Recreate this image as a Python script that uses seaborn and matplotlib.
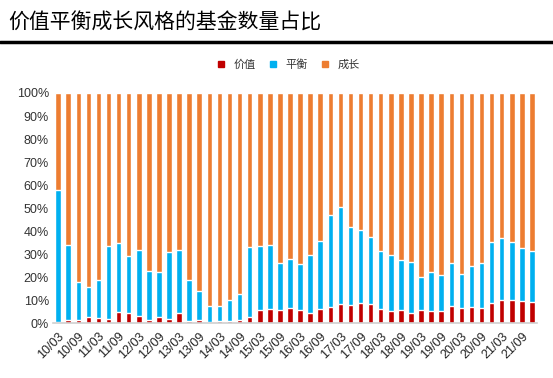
import pandas as pd
import matplotlib
matplotlib.use("Agg")
import matplotlib.pyplot as plt
import matplotlib.lines as mlines
import seaborn as sns

# Quarter labels 2010Q1 .. 2021Q4
quarters = [f"{y:02d}/{m:02d}" for y in range(10, 22) for m in (3, 6, 9, 12)]

# Share of funds by style (%)
value_share = [0.5, 1.6, 1.3, 2.9, 2.2, 1.7, 4.8, 4.4, 3.2, 1.3, 2.9, 1.7,
               4.4, 0.9, 1.6, 0.6, 0.9, 0.9, 1.3, 2.9, 5.7, 6.0, 5.7, 6.4,
               5.7, 4.5, 6.0, 7.0, 8.3, 7.8, 8.7, 8.3, 6.0, 5.1, 5.7, 4.4,
               5.7, 5.1, 5.1, 7.3, 6.8, 7.0, 6.4, 8.7, 9.9, 10.2, 9.6, 9.3]
balance_share = [57.3, 32.3, 16.7, 12.7, 16.4, 31.9, 29.9, 25.0, 28.5, 21.2, 19.2, 29.3,
                 27.3, 17.9, 12.4, 6.7, 6.7, 9.3, 11.5, 30.4, 27.9, 27.9, 20.3, 21.4,
                 20.0, 25.0, 29.5, 39.9, 42.0, 34.1, 31.7, 29.1, 25.2, 24.4, 21.8, 22.2,
                 14.4, 17.3, 15.7, 18.9, 14.4, 18.0, 19.8, 26.5, 26.9, 25.0, 23.1, 21.9]

series_names = ["价值", "平衡", "成长"]
colors = ["#C00000", "#00B0F0", "#ED7D31"]

df = pd.DataFrame({"quarter": quarters, "value": value_share, "balance": balance_share})
df["growth"] = 100 - df["value"] - df["balance"]
df["top_value"] = df["value"]
df["top_balance"] = df["value"] + df["balance"]
df["top_growth"] = df["top_balance"] + df["growth"]

sns.set_style("white")
plt.rcParams["font.family"] = ["Noto Sans CJK SC", "DejaVu Sans"]

fig = plt.figure(figsize=(5.53, 3.78), dpi=100)
ax = fig.add_axes([0.096, 0.145, 0.875, 0.609])

for col, c in zip(["top_growth", "top_balance", "top_value"], colors[::-1]):
    sns.barplot(data=df, x="quarter", y=col, color=c, width=0.55,
                saturation=1, ax=ax, errorbar=None)

ax.set_xlim(-0.5, len(quarters) - 0.5)
ax.set_ylim(0, 100)
ax.set_yticks(range(0, 101, 10))
ax.set_yticklabels([f"{v}%" for v in range(0, 101, 10)], fontsize=9, color="#333333",
                   family=["Liberation Sans", "DejaVu Sans"])
ax.set_xticks(range(0, len(quarters), 2))
ax.set_xticklabels(quarters[::2], rotation=45, ha="right", rotation_mode="anchor",
                   fontsize=9, color="#222222", family=["Liberation Sans", "DejaVu Sans"])
ax.set_xticks([i - 0.5 for i in range(len(quarters) + 1)], minor=True)
ax.tick_params(axis="x", which="major", length=0, pad=5)
ax.tick_params(axis="x", which="minor", length=4, color="#D0D0D0", width=1)
ax.tick_params(axis="y", length=0, pad=3)
ax.set_xlabel("")
ax.set_ylabel("")
for s in ["top", "right", "left"]:
    ax.spines[s].set_visible(False)
ax.spines["bottom"].set_color("#D0D0D0")
ax.spines["bottom"].set_linewidth(1.2)

handles = [mlines.Line2D([], [], color=c, marker="s", linestyle="", markersize=5)
           for c in colors]
fig.legend(handles, series_names, loc="center", bbox_to_anchor=(0.515, 0.828),
           ncol=3, frameon=False, fontsize=8, handletextpad=0.1, columnspacing=0.6,
           labelcolor="#333333")

# Title and rule
fig.text(0.015, 1 - 23 / 378, "价值平衡成长风格的基金数量占比", fontsize=15,
         va="center", ha="left", color="black")
fig.add_artist(mlines.Line2D([0, 1], [1 - 42 / 378, 1 - 42 / 378], color="black",
                             linewidth=2.5, transform=fig.transFigure))

fig.savefig("out.png", dpi=100)
